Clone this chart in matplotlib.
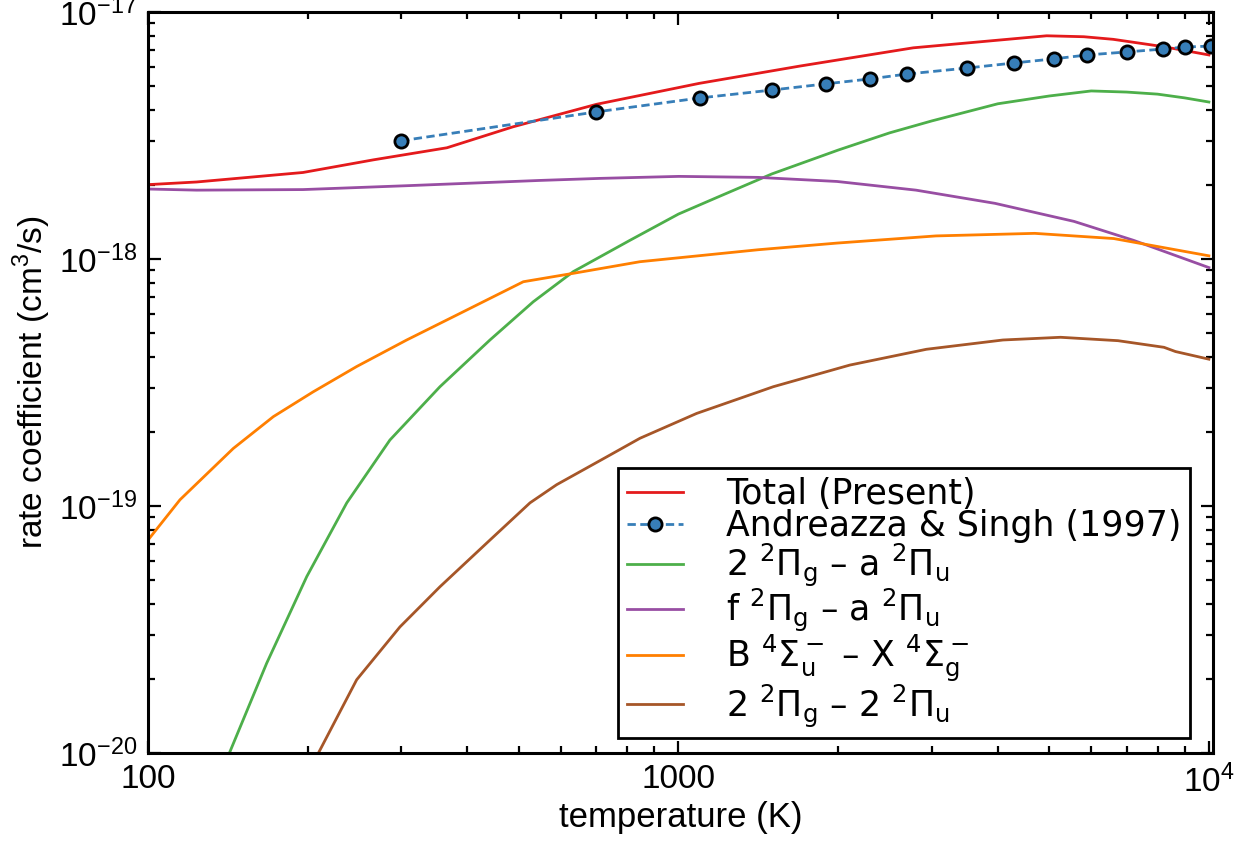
import numpy as np
import matplotlib
matplotlib.use("Agg")
import matplotlib.pyplot as plt
from matplotlib.ticker import NullFormatter

plt.rcParams['font.family'] = ['Liberation Sans', 'DejaVu Sans']
plt.rcParams['mathtext.fontset'] = 'dejavusans'

# Total (Present)
T_tot = [100, 123.5, 196, 266, 366, 488, 701, 1094, 1694, 2771, 4944, 5810,
         6600, 8202, 10000]
k_tot = [2.00e-18, 2.05e-18, 2.24e-18, 2.52e-18, 2.82e-18, 3.43e-18, 4.23e-18,
         5.14e-18, 6.04e-18, 7.16e-18, 8.01e-18, 7.94e-18, 7.75e-18, 7.24e-18,
         6.70e-18]

# Andreazza & Singh (1997)
T_as = [300, 700, 1100, 1500, 1900, 2300, 2700, 3500, 4300, 5100, 5900,
        7000, 8200, 9000, 10100]
k_as = [3.01e-18, 3.94e-18, 4.49e-18, 4.83e-18, 5.12e-18, 5.36e-18, 5.61e-18,
        5.93e-18, 6.22e-18, 6.46e-18, 6.70e-18, 6.89e-18, 7.08e-18, 7.21e-18,
        7.28e-18]

# 2 2Pi_g - a 2Pi_u
T_2a = [130, 142.3, 167.4, 199.2, 237, 285.8, 355.1, 441.2, 532.4, 633.5, 810,
        1000, 1200, 1500, 2000, 2500, 3000, 4000, 5000, 6000, 7000, 8000, 9000,
        10000]
k_2a = [6.5e-21, 9.97e-21, 2.31e-20, 5.18e-20, 1.03e-19, 1.85e-19, 3.04e-19,
        4.70e-19, 6.71e-19, 8.89e-19, 1.19e-18, 1.52e-18, 1.80e-18, 2.21e-18,
        2.76e-18, 3.24e-18, 3.62e-18, 4.25e-18, 4.57e-18, 4.79e-18, 4.74e-18,
        4.65e-18, 4.49e-18, 4.32e-18]

# f 2Pi_g - a 2Pi_u
T_fa = [100, 123.5, 196, 307, 548, 711, 1002, 1413, 1990, 2804, 3951, 5567,
        7210, 10000]
k_fa = [1.92e-18, 1.90e-18, 1.91e-18, 1.98e-18, 2.08e-18, 2.12e-18, 2.16e-18,
        2.14e-18, 2.06e-18, 1.90e-18, 1.68e-18, 1.42e-18, 1.19e-18, 9.23e-19]

# B 4Sigma_u- - X 4Sigma_g-
T_bx = [100, 114.9, 144.8, 172.3, 204.9, 247.4, 307.4, 381.9, 510, 633.5, 846,
        1413, 1991, 3058, 4695, 6614, 10000]
k_bx = [7.28e-20, 1.06e-19, 1.71e-19, 2.30e-19, 2.90e-19, 3.67e-19, 4.70e-19,
        5.93e-19, 8.09e-19, 8.75e-19, 9.75e-19, 1.09e-18, 1.16e-18, 1.24e-18,
        1.27e-18, 1.21e-18, 1.03e-18]

# 2 2Pi_g - 2 2Pi_u
T_22 = [200, 209.4, 247.4, 298.5, 355.1, 441.2, 525, 589.4, 732, 846, 1082,
        1509, 2104, 2934, 4090, 5252, 6739, 8228, 8650, 10000]
k_22 = [8.0e-21, 9.97e-21, 1.98e-20, 3.24e-20, 4.71e-20, 7.28e-20, 1.03e-19,
        1.22e-19, 1.58e-19, 1.88e-19, 2.37e-19, 3.04e-19, 3.72e-19, 4.31e-19,
        4.70e-19, 4.82e-19, 4.67e-19, 4.39e-19, 4.22e-19, 3.93e-19]

y_major = [1e-20, 1e-19, 1e-18, 1e-17]
y_labels = [r'$\mathdefault{10^{-20}}$', r'$\mathdefault{10^{-19}}$',
            r'$\mathdefault{10^{-18}}$', r'$\mathdefault{10^{-17}}$']

fig = plt.figure(figsize=(12.51, 8.44), dpi=100)
ax = fig.add_axes([0.1183, 0.1078, 0.8517, 0.878])

lw = 2.0
ax.plot(T_tot, k_tot, color='#e41a1c', lw=lw, label='Total (Present)')
ax.plot(T_as, k_as, color='#377eb8', lw=lw, dashes=(3, 1.6), marker='o',
        markersize=9.5, markerfacecolor='#377eb8', markeredgecolor='black',
        markeredgewidth=2, label='Andreazza & Singh (1997)')
ax.plot(T_2a, k_2a, color='#4daf4a', lw=lw,
        label=r'2 $^2\Pi_\mathrm{g}$ – a $^2\Pi_\mathrm{u}$')
ax.plot(T_fa, k_fa, color='#984ea3', lw=lw,
        label=r'f $^2\Pi_\mathrm{g}$ – a $^2\Pi_\mathrm{u}$')
ax.plot(T_bx, k_bx, color='#ff7f00', lw=lw,
        label=r'B $^4\Sigma_\mathrm{u}^-$ – X $^4\Sigma_\mathrm{g}^-$')
ax.plot(T_22, k_22, color='#a65628', lw=lw,
        label=r'2 $^2\Pi_\mathrm{g}$ – 2 $^2\Pi_\mathrm{u}$')

ax.set_xscale('log')
ax.set_yscale('log')
ax.set_xticks([100, 1000, 10000], labels=['100', '1000', r'$\mathdefault{10^4}$'])
ax.set_yticks(y_major, labels=y_labels)
ax.xaxis.set_minor_formatter(NullFormatter())
ax.yaxis.set_minor_formatter(NullFormatter())
ax.set_xlim(100, 10200)
ax.set_ylim(1e-20, 1e-17)

ax.tick_params(which='both', direction='in', top=True, right=True,
               labelsize=24, width=1.6, pad=8)
ax.tick_params(which='major', length=9)
ax.tick_params(which='minor', length=5)
for s in ax.spines.values():
    s.set_linewidth(2.2)

ax.set_xlabel('temperature (K)', fontsize=25, labelpad=2)
ax.set_ylabel(r'rate coefficient (cm$^\mathdefault{3}$/s)', fontsize=24, labelpad=4)

leg = ax.legend(loc='lower right', bbox_to_anchor=(0.978, 0.020),
                borderaxespad=0, prop={'family': 'DejaVu Sans', 'size': 25},
                frameon=True, fancybox=False, edgecolor='black', framealpha=1,
                handlelength=1.6, handletextpad=1.25, labelspacing=-0.05,
                borderpad=0.25)
leg.get_frame().set_linewidth(2)

fig.savefig('out.png', dpi=100)
